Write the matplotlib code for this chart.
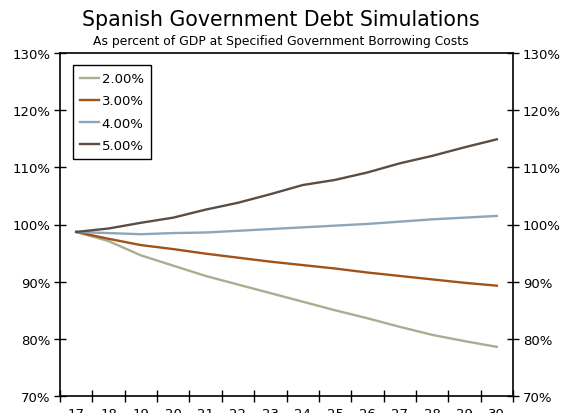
import numpy as np
import matplotlib.pyplot as plt
from matplotlib.ticker import FixedLocator, FuncFormatter

years = ['17', '18', '19', '20', '21', '22', '23', '24', '25', '26', '27', '28', '29', '30']

rate_2 = [98.7, 97.1, 94.6, 92.8, 91.0, 89.5, 88.0, 86.5, 85.0, 83.6, 82.1, 80.7, 79.6, 78.6]
rate_3 = [98.7, 97.5, 96.4, 95.7, 94.9, 94.2, 93.5, 92.9, 92.3, 91.6, 91.0, 90.4, 89.8, 89.3]
rate_4 = [98.7, 98.5, 98.3, 98.5, 98.6, 98.9, 99.2, 99.5, 99.8, 100.1, 100.5, 100.9, 101.2, 101.5]
rate_5 = [98.7, 99.3, 100.3, 101.2, 102.6, 103.8, 105.3, 106.9, 107.8, 109.1, 110.7, 112.0, 113.5, 114.9]

series_labels = ['2.00%', '3.00%', '4.00%', '5.00%']
colors = ['#A9AF8E', '#A0521C', '#8DA6B9', '#5C4D44']

fig = plt.figure(figsize=(5.62, 4.14), dpi=100)
ax = fig.add_axes([60 / 562, 17 / 414, 453 / 562, 343 / 414])

x = np.arange(len(years))
for vals, lab, col in zip([rate_2, rate_3, rate_4, rate_5], series_labels, colors):
    ax.plot(x, vals, color=col, lw=1.7, label=lab)

ax.set_xlim(-0.5, len(years) - 0.5)
ax.set_ylim(70, 130)

# category boundaries get the tick marks, centers get the labels
ax.xaxis.set_major_locator(FixedLocator(np.arange(-0.5, len(years), 1.0)))
ax.xaxis.set_minor_locator(FixedLocator(x))
ax.xaxis.set_major_formatter(FuncFormatter(lambda v, p: ''))
ax.xaxis.set_minor_formatter(FuncFormatter(lambda v, p: years[int(round(v))]))
ax.tick_params(axis='x', which='major', direction='inout', length=8, width=1)
ax.tick_params(axis='x', which='minor', length=0, pad=8, labelsize=9.5)

ax.set_yticks(np.arange(70, 131, 10))
ax.yaxis.set_major_formatter(FuncFormatter(lambda v, p: f'{v:.0f}%'))
ax.tick_params(axis='y', direction='inout', length=8, width=1, labelsize=9.5,
               right=True, labelright=True, pad=3)

for s in ax.spines.values():
    s.set_linewidth(1.2)
    s.set_color('black')

leg = ax.legend(loc='upper left', bbox_to_anchor=(0.029, 0.965), fontsize=9.5,
                frameon=True, fancybox=False, edgecolor='black', framealpha=1,
                handlelength=1.4, handletextpad=0.2, labelspacing=0.7,
                borderpad=0.55, borderaxespad=0)
leg.get_frame().set_linewidth(1.0)

fig.text(0.5, 1 - 20 / 414, 'Spanish Government Debt Simulations',
         ha='center', va='center', fontsize=14.8)
fig.text(0.5, 1 - 41 / 414, 'As percent of GDP at Specified Government Borrowing Costs',
         ha='center', va='center', fontsize=8.9)

fig.savefig('out.png', dpi=100)
